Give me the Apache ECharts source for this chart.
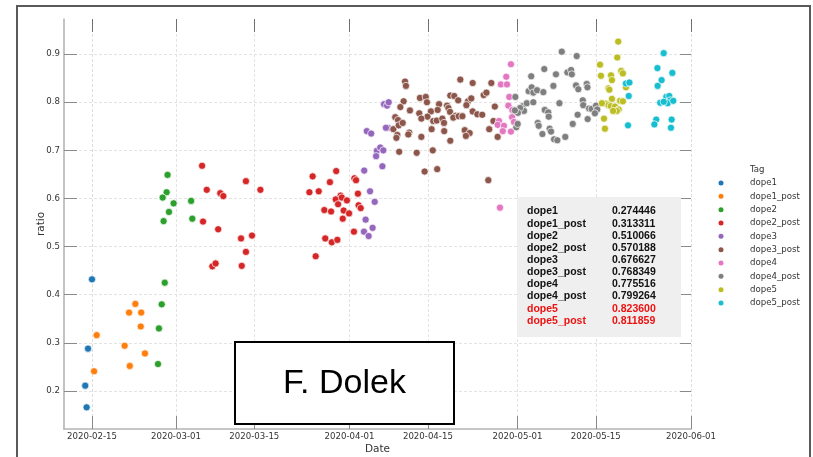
<!DOCTYPE html>
<html>
<head>
<meta charset="utf-8">
<script src="https://cdn.jsdelivr.net/npm/echarts@6/dist/echarts.min.js"></script>
<style>
  html, body { margin: 0; padding: 0; background: #fff; }
  #chart { width: 813px; height: 457px; }
</style>
</head>
<body>
<div id="chart"></div>
<script>
// ---- measurements per tag: sample timestamp and ratio ----
const dope1Dates = ['2020-02-15 00:00','2020-02-14 07:00','2020-02-13 19:00','2020-02-14 01:00'];
const dope1Ratio = [0.432,0.288,0.211,0.166];

const dope1PostDates = ['2020-02-15 20:00','2020-02-15 09:00','2020-02-20 20:00','2020-02-21 18:00','2020-02-21 15:00','2020-02-22 18:00','2020-02-23 19:00','2020-02-23 17:00','2020-02-24 11:00'];
const dope1PostRatio = [0.316,0.241,0.294,0.252,0.363,0.381,0.363,0.334,0.278];

const dope2Dates = ['2020-02-28 12:00','2020-02-28 08:00','2020-02-27 15:00','2020-02-29 14:00','2020-02-28 18:00','2020-02-27 19:00','2020-03-03 17:00','2020-03-03 22:00','2020-02-28 00:00','2020-02-27 11:00','2020-02-26 23:00','2020-02-26 19:00'];
const dope2Ratio = [0.649,0.613,0.602,0.590,0.572,0.553,0.595,0.558,0.425,0.380,0.330,0.256];

const dope2PostDates = ['2020-03-05 16:00','2020-03-06 12:00','2020-03-08 22:00','2020-03-09 11:00','2020-03-13 12:00','2020-03-16 02:00','2020-03-05 20:00','2020-03-08 13:00','2020-03-12 15:00','2020-03-14 14:00','2020-03-13 12:00','2020-03-07 12:00','2020-03-08 02:00','2020-03-12 18:00',
  '2020-03-25 10:00','2020-03-29 15:00','2020-03-28 12:00','2020-03-24 20:00','2020-03-26 12:00','2020-04-01 21:00','2020-04-02 04:00','2020-04-02 12:00','2020-03-30 10:00','2020-03-29 13:00','2020-03-30 15:00','2020-03-31 13:00','2020-03-29 23:00','2020-04-02 15:00','2020-04-03 00:00','2020-03-27 12:00','2020-03-28 17:00','2020-03-30 23:00','2020-03-31 22:00','2020-03-30 19:00','2020-04-01 19:00','2020-03-27 16:00','2020-03-28 20:00','2020-03-29 20:00','2020-03-25 23:00'];
const dope2PostRatio = [0.668,0.618,0.611,0.605,0.636,0.618,0.552,0.536,0.517,0.523,0.489,0.459,0.465,0.460,
  0.646,0.657,0.634,0.613,0.615,0.642,0.638,0.610,0.606,0.598,0.602,0.596,0.588,0.586,0.580,0.576,0.573,0.575,0.569,0.558,0.531,0.517,0.509,0.514,0.480];

const dope3Dates = ['2020-04-07 04:00','2020-04-07 17:00','2020-04-08 00:00','2020-04-04 02:00','2020-04-04 21:00','2020-04-07 21:00','2020-04-05 21:00','2020-04-06 12:00','2020-04-07 01:00','2020-04-05 18:00','2020-04-06 21:00','2020-04-03 15:00','2020-04-04 16:00','2020-04-05 12:00','2020-04-03 21:00','2020-04-05 03:00','2020-04-03 14:00','2020-04-04 10:00','2020-04-07 12:00'];
const dope3Ratio = [0.796,0.793,0.800,0.740,0.735,0.747,0.699,0.706,0.700,0.688,0.667,0.658,0.615,0.593,0.556,0.539,0.531,0.522,0.747];

const dope3PostDates = ['2020-04-10 22:00','2020-04-11 02:00','2020-04-20 19:00','2020-04-23 00:00','2020-04-26 08:00','2020-04-13 14:00','2020-04-14 15:00','2020-04-14 20:00','2020-04-10 16:00','2020-04-10 02:00',
  '2020-04-11 19:00','2020-04-17 00:00','2020-04-19 00:00','2020-04-19 17:00','2020-04-20 10:00','2020-04-22 04:00','2020-04-21 21:00','2020-04-22 18:00','2020-04-24 23:00','2020-04-25 11:00',
  '2020-04-26 23:00','2020-04-18 10:00','2020-04-18 16:00','2020-04-15 13:00','2020-04-16 18:00','2020-04-13 11:00','2020-04-14 22:00','2020-04-13 20:00','2020-04-18 23:00','2020-04-19 22:00',
  '2020-04-19 13:00','2020-04-20 12:00','2020-04-21 04:00','2020-04-23 00:00','2020-04-23 20:00','2020-04-24 17:00','2020-04-15 23:00','2020-04-16 14:00','2020-04-17 14:00','2020-04-17 21:00',
  '2020-04-09 04:00','2020-04-09 16:00','2020-04-08 20:00','2020-04-09 19:00','2020-04-10 12:00','2020-04-09 13:00','2020-04-11 16:00','2020-04-11 12:00','2020-04-15 16:00','2020-04-13 20:00',
  '2020-04-17 22:00','2020-04-21 14:00','2020-04-22 11:00','2020-04-21 19:00','2020-04-25 23:00','2020-04-19 00:00','2020-04-27 11:00','2020-04-09 21:00','2020-04-13 00:00','2020-04-15 21:00',
  '2020-04-14 10:00','2020-04-16 16:00','2020-04-25 19:00','2020-04-26 17:00','2020-04-09 09:00'];
const dope3PostRatio = [0.843,0.834,0.847,0.840,0.840,0.809,0.811,0.800,0.802,0.790,
  0.783,0.796,0.814,0.813,0.804,0.802,0.794,0.808,0.815,0.820,
  0.791,0.793,0.788,0.781,0.784,0.777,0.770,0.766,0.780,0.772,
  0.768,0.771,0.771,0.781,0.775,0.774,0.761,0.762,0.766,0.757,
  0.769,0.763,0.744,0.752,0.757,0.732,0.737,0.733,0.744,0.728,
  0.740,0.742,0.736,0.730,0.744,0.720,0.728,0.697,0.695,0.700,
  0.656,0.661,0.638,0.761,0.726];

const dope4Dates = ['2020-04-29 20:00','2020-04-29 00:00','2020-04-28 01:00','2020-04-29 03:00','2020-04-29 13:00','2020-04-29 09:00','2020-04-30 02:00','2020-04-30 01:00','2020-04-30 09:00','2020-04-27 17:00','2020-04-27 11:00','2020-04-28 14:00','2020-04-28 09:00','2020-04-29 20:00','2020-04-27 21:00'];
const dope4Ratio = [0.879,0.853,0.837,0.837,0.811,0.793,0.784,0.769,0.759,0.761,0.753,0.751,0.740,0.739,0.581];

const dope4PostDates = ['2020-05-08 22:00','2020-05-11 14:00','2020-05-05 19:00','2020-05-07 21:00','2020-05-09 22:00','2020-05-10 14:00','2020-05-10 17:00','2020-05-03 11:00','2020-05-03 00:00','2020-05-03 13:00',
  '2020-05-03 20:00','2020-05-04 12:00','2020-05-05 15:00','2020-05-07 10:00','2020-05-11 11:00','2020-05-11 21:00','2020-05-13 09:00','2020-05-13 12:00','2020-04-30 15:00','2020-05-01 23:00',
  '2020-05-02 16:00','2020-05-02 04:00','2020-05-03 20:00','2020-05-01 11:00','2020-05-01 02:00','2020-04-30 13:00','2020-04-30 19:00','2020-05-01 01:00','2020-05-08 12:00','2020-05-05 21:00',
  '2020-05-06 12:00','2020-05-06 14:00','2020-05-12 16:00','2020-05-12 18:00','2020-05-13 19:00','2020-05-14 06:00','2020-05-15 01:00','2020-05-15 06:00','2020-05-14 20:00','2020-05-11 18:00',
  '2020-05-13 13:00','2020-05-10 21:00','2020-05-04 15:00','2020-05-04 19:00','2020-05-05 11:00','2020-05-06 18:00','2020-05-07 00:00','2020-05-07 13:00','2020-05-08 03:00','2020-05-09 13:00'];
const dope4PostRatio = [0.905,0.896,0.869,0.858,0.862,0.867,0.858,0.854,0.823,0.831,
  0.820,0.825,0.821,0.834,0.835,0.827,0.838,0.831,0.811,0.792,
  0.798,0.782,0.800,0.788,0.778,0.783,0.748,0.755,0.798,0.784,
  0.779,0.770,0.804,0.794,0.787,0.786,0.793,0.785,0.777,0.774,
  0.765,0.755,0.757,0.751,0.734,0.745,0.739,0.723,0.721,0.728];

const dope5Dates = ['2020-05-19 00:00','2020-05-18 20:00','2020-05-15 18:00','2020-05-15 22:00','2020-05-17 17:00','2020-05-17 21:00','2020-05-19 13:00','2020-05-19 20:00','2020-05-17 06:00','2020-05-17 10:00','2020-05-20 09:00','2020-05-17 21:00',
  '2020-05-16 20:00','2020-05-17 06:00','2020-05-19 08:00','2020-05-19 20:00','2020-05-17 16:00','2020-05-18 10:00','2020-05-19 02:00','2020-05-18 18:00','2020-05-16 11:00','2020-05-16 15:00','2020-05-18 02:00','2020-05-16 02:00'];
const dope5Ratio = [0.926,0.893,0.878,0.855,0.856,0.846,0.865,0.860,0.829,0.826,0.831,0.807,
  0.797,0.794,0.803,0.802,0.792,0.791,0.785,0.782,0.766,0.745,0.782,0.798];

const dope5PostDates = ['2020-05-20 09:00','2020-05-21 00:00','2020-05-20 21:00','2020-05-20 18:00','2020-05-27 03:00','2020-05-28 16:00','2020-05-26 00:00','2020-05-26 18:00','2020-05-26 01:00','2020-05-27 14:00',
  '2020-05-28 03:00','2020-05-28 07:00','2020-05-27 20:00','2020-05-26 12:00','2020-05-27 03:00','2020-05-28 20:00','2020-05-25 19:00','2020-05-25 11:00','2020-05-28 13:00','2020-05-28 10:00'];
const dope5PostRatio = [0.839,0.841,0.813,0.752,0.902,0.861,0.871,0.846,0.834,0.811,
  0.813,0.804,0.798,0.799,0.801,0.803,0.764,0.754,0.764,0.747];

// ---- legend / summary table ----
const tagNames = ['dope1','dope1_post','dope2','dope2_post','dope3','dope3_post','dope4','dope4_post','dope5','dope5_post'];
const tagColors = ['#1f77b4','#ff7f0e','#2ca02c','#d62728','#9467bd','#8c564b','#e377c2','#7f7f7f','#bcbd22','#17becf'];
const summaryValues = ['0.274446','0.313311','0.510066','0.570188','0.676627','0.768349','0.775516','0.799264','0.823600','0.811859'];
const highlightedTags = ['dope5','dope5_post'];

// ---- axis ticks ----
const dateTicks = ['2020-02-15','2020-03-01','2020-03-15','2020-04-01','2020-04-15','2020-05-01','2020-05-15','2020-06-01'];
const ratioTicks = [0.2,0.3,0.4,0.5,0.6,0.7,0.8,0.9];

const tagDates = [dope1Dates, dope1PostDates, dope2Dates, dope2PostDates, dope3Dates, dope3PostDates, dope4Dates, dope4PostDates, dope5Dates, dope5PostDates];
const tagRatios = [dope1Ratio, dope1PostRatio, dope2Ratio, dope2PostRatio, dope3Ratio, dope3PostRatio, dope4Ratio, dope4PostRatio, dope5Ratio, dope5PostRatio];

const X_MIN = '2020-02-10';
const X_MAX = '2020-06-01';
const Y_MIN = 0.121;
const Y_MAX = 0.973;

const tickColor = '#8a8a8a';
const gridDash = { color: '#dcdcdc', width: 0.8, type: [3, 2] };
const labelFont = { fontFamily: 'DejaVu Sans', fontSize: 8.6, color: '#333' };

const series = tagNames.map((name, i) => ({
  name: name,
  type: 'scatter',
  xAxisIndex: 0,
  yAxisIndex: 0,
  symbol: 'circle',
  symbolSize: 7.2,
  itemStyle: { color: tagColors[i], borderColor: '#ffffff', borderWidth: 0.7, opacity: 1 },
  emphasis: { disabled: true },
  data: tagDates[i].map((d, k) => [d, tagRatios[i][k]])
}));

// summary table: one row per tag, name column and mean column
const summaryTop = 211.5;
const summaryStep = 12.15;
const summaryFont = 'bold 10.5px "Liberation Sans", Arial, sans-serif';
const summaryTexts = [];
tagNames.forEach((name, i) => {
  const color = highlightedTags.indexOf(name) >= 0 ? '#ee1111' : '#111111';
  const y = summaryTop + i * summaryStep;
  summaryTexts.push({
    type: 'text', x: 527, y: y, z: 25,
    style: { text: name, fill: color, font: summaryFont, textVerticalAlign: 'middle' }
  });
  summaryTexts.push({
    type: 'text', x: 612, y: y, z: 25,
    style: { text: summaryValues[i], fill: color, font: summaryFont, textVerticalAlign: 'middle' }
  });
});

const option = {
  backgroundColor: '#ffffff',
  animation: false,
  grid: { left: 64, top: 19, width: 627, height: 410, containLabel: false, outerBoundsMode: 'none' },
  xAxis: [
    {
      type: 'time', position: 'bottom', min: X_MIN, max: X_MAX,
      name: 'Date', nameLocation: 'middle', nameGap: 15, nameMoveOverlap: false,
      nameTextStyle: { fontFamily: 'DejaVu Sans', fontSize: 10.5, color: '#333' },
      axisLine: { show: true, lineStyle: { color: '#b4b4b4', width: 1.6 } },
      axisTick: { show: true, inside: true, length: 13, customValues: dateTicks, lineStyle: { color: tickColor, width: 1 } },
      axisLabel: { show: true, customValues: dateTicks, formatter: '{yyyy}-{MM}-{dd}', margin: 3, ...labelFont },
      splitLine: { show: true, lineStyle: gridDash }
    },
    {
      type: 'time', position: 'top', min: X_MIN, max: X_MAX,
      axisLine: { show: false },
      axisTick: { show: true, inside: true, length: 13, customValues: dateTicks, lineStyle: { color: '#707070', width: 1 } },
      axisLabel: { show: false },
      splitLine: { show: false }
    }
  ],
  yAxis: [
    {
      type: 'value', position: 'left', min: Y_MIN, max: Y_MAX,
      name: 'ratio', nameLocation: 'middle', nameGap: 17, nameRotate: 90, nameMoveOverlap: false,
      nameTextStyle: { fontFamily: 'DejaVu Sans', fontSize: 10.5, color: '#333' },
      axisLine: { show: true, lineStyle: { color: '#b4b4b4', width: 1.6 } },
      axisTick: { show: true, inside: true, length: 13, customValues: ratioTicks, lineStyle: { color: tickColor, width: 1 } },
      axisLabel: { show: true, customValues: ratioTicks, formatter: v => v.toFixed(1), margin: 4, ...labelFont },
      splitLine: { show: true, lineStyle: gridDash }
    },
    {
      type: 'value', position: 'right', min: Y_MIN, max: Y_MAX,
      axisLine: { show: false },
      axisTick: { show: true, inside: true, length: 11, customValues: ratioTicks, lineStyle: { color: tickColor, width: 1 } },
      axisLabel: { show: false },
      splitLine: { show: false }
    }
  ],
  legend: {
    orient: 'vertical', left: 718.5, top: 177.5, padding: 0,
    data: tagNames,
    icon: 'circle', itemWidth: 48, itemHeight: 5, itemGap: 2.33,
    itemStyle: { borderWidth: 0 },
    textStyle: { fontFamily: 'DejaVu Sans', fontSize: 8.6, color: '#333', lineHeight: 11 },
    selectedMode: false
  },
  series: series,
  graphic: [
    {
      type: 'text', x: 750, y: 170, z: 20,
      style: { text: 'Tag', fill: '#333', font: '8.6px "DejaVu Sans"', textVerticalAlign: 'middle' }
    },
    {
      type: 'rect', z: 20,
      shape: { x: 517, y: 197, width: 164, height: 140 },
      style: { fill: '#efefef', stroke: null }
    }
  ].concat(summaryTexts).concat([
    {
      type: 'rect', z: 20,
      shape: { x: 235, y: 342, width: 219, height: 82 },
      style: { fill: '#ffffff', stroke: '#000000', lineWidth: 2 }
    },
    {
      type: 'text', x: 344.5, y: 384, z: 21,
      style: { text: 'F. Dolek', fill: '#000', font: '34px "Liberation Sans", Arial, sans-serif', textAlign: 'center', textVerticalAlign: 'middle' }
    },
    {
      type: 'rect', z: 30,
      shape: { x: 17, y: 6, width: 793, height: 470 },
      style: { fill: null, stroke: '#5a5a5a', lineWidth: 2 }
    }
  ])
};

const chart = echarts.init(document.getElementById('chart'), null, { renderer: 'canvas' });
chart.setOption(option);
</script>
</body>
</html>
